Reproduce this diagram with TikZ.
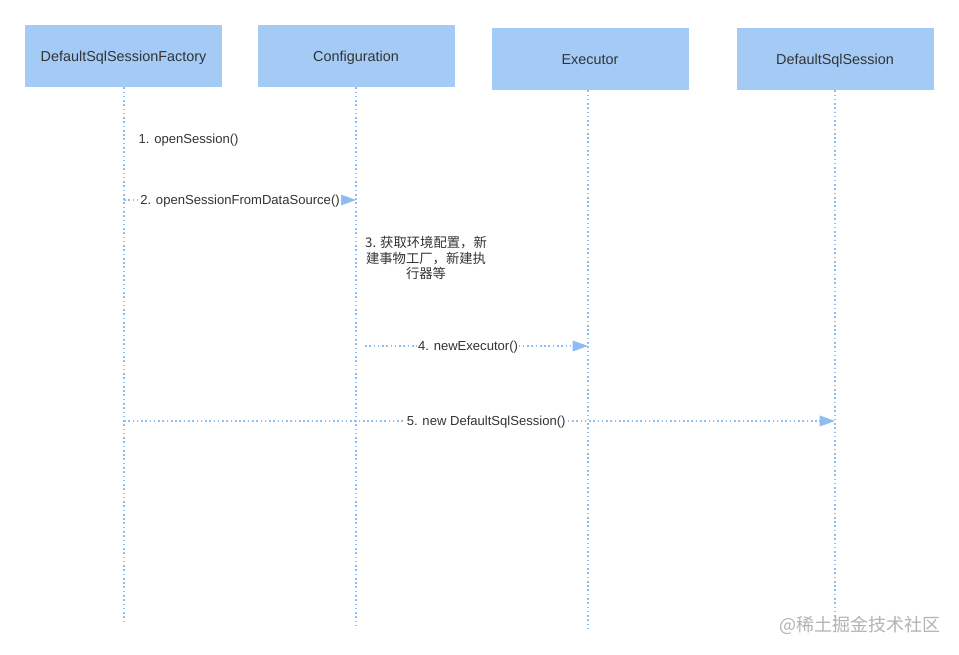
\documentclass[tikz,border=0pt]{standalone}
\usepackage{fontspec}
\setmainfont{Liberation Sans}
\newfontfamily\cjk{Noto Sans CJK SC}
\usetikzlibrary{arrows.meta}
\definecolor{boxblue}{HTML}{A4CBF6}
\definecolor{lineblue}{HTML}{8DBDF2}
\definecolor{txt}{HTML}{333333}
\tikzset{
  actor/.style={fill=boxblue, minimum width=147.75pt, minimum height=46.5pt, text height=1em, text depth=0.2em, font=\fontsize{10.8}{12}\selectfont, text=txt},
  lifeline/.style={lineblue, line width=1pt, dash pattern=on 1.2pt off 2pt},
  msg/.style={lifeline, -{Triangle[length=11.5pt,width=8pt]}},
  lbl/.style={fill=white, font=\fontsize{9.8}{12}\selectfont, text=txt, inner sep=1pt, yshift=-1pt},
}
\begin{document}
\begin{tikzpicture}[x=0.75pt, y=-0.75pt]
  \useasboundingbox (0,0) rectangle (959,655);
  \node[actor] (factory) at (123.5,56) {DefaultSqlSessionFactory};
  \node[actor] (config) at (356,56) {Configuration};
  \node[actor] (executor) at (590,59) {Executor};
  \node[actor] (session) at (835,59) {DefaultSqlSession};
  \coordinate (factoryEnd) at (124,622); \coordinate (configEnd) at (356,625);
  \coordinate (executorEnd) at (588,630); \coordinate (sessionEnd) at (835,625);
  \draw[lifeline] (factory.south -| factoryEnd) -- (factoryEnd);
  \draw[lifeline] (config.south -| configEnd) -- (configEnd);
  \draw[lifeline] (executor.south -| executorEnd) -- (executorEnd);
  \draw[lifeline] (session.south -| sessionEnd) -- (sessionEnd);
  \coordinate (row2) at (0,200); \coordinate (row4) at (0,346); \coordinate (row5) at (0,421);
  \node[lbl, anchor=west] (open) at (137,139) {1. openSession()};
  \draw[msg] (factoryEnd |- row2) -- node[lbl] (fromDs) {2. openSessionFromDataSource()} (configEnd |- row2);
  \node[align=center, text=txt, font=\cjk\fontsize{10}{11.6}\selectfont] (prepare) at (426,258) {3. 获取环境配置，新\\建事物工厂，新建执\\行器等};
  \draw[msg, shorten <=6.75pt] (configEnd |- row4) -- node[lbl, xshift=-3pt] (newExec) {4. newExecutor()} (executorEnd |- row4);
  \draw[msg] (factoryEnd |- row5) -- node[lbl, xshift=5pt] (newSession) {5. new DefaultSqlSession()} (sessionEnd |- row5);
  \node[text=gray!60, font=\cjk\fontsize{13.5}{16}\selectfont] (mark) at (860,625) {@稀土掘金技术社区};
\end{tikzpicture}
\end{document}
